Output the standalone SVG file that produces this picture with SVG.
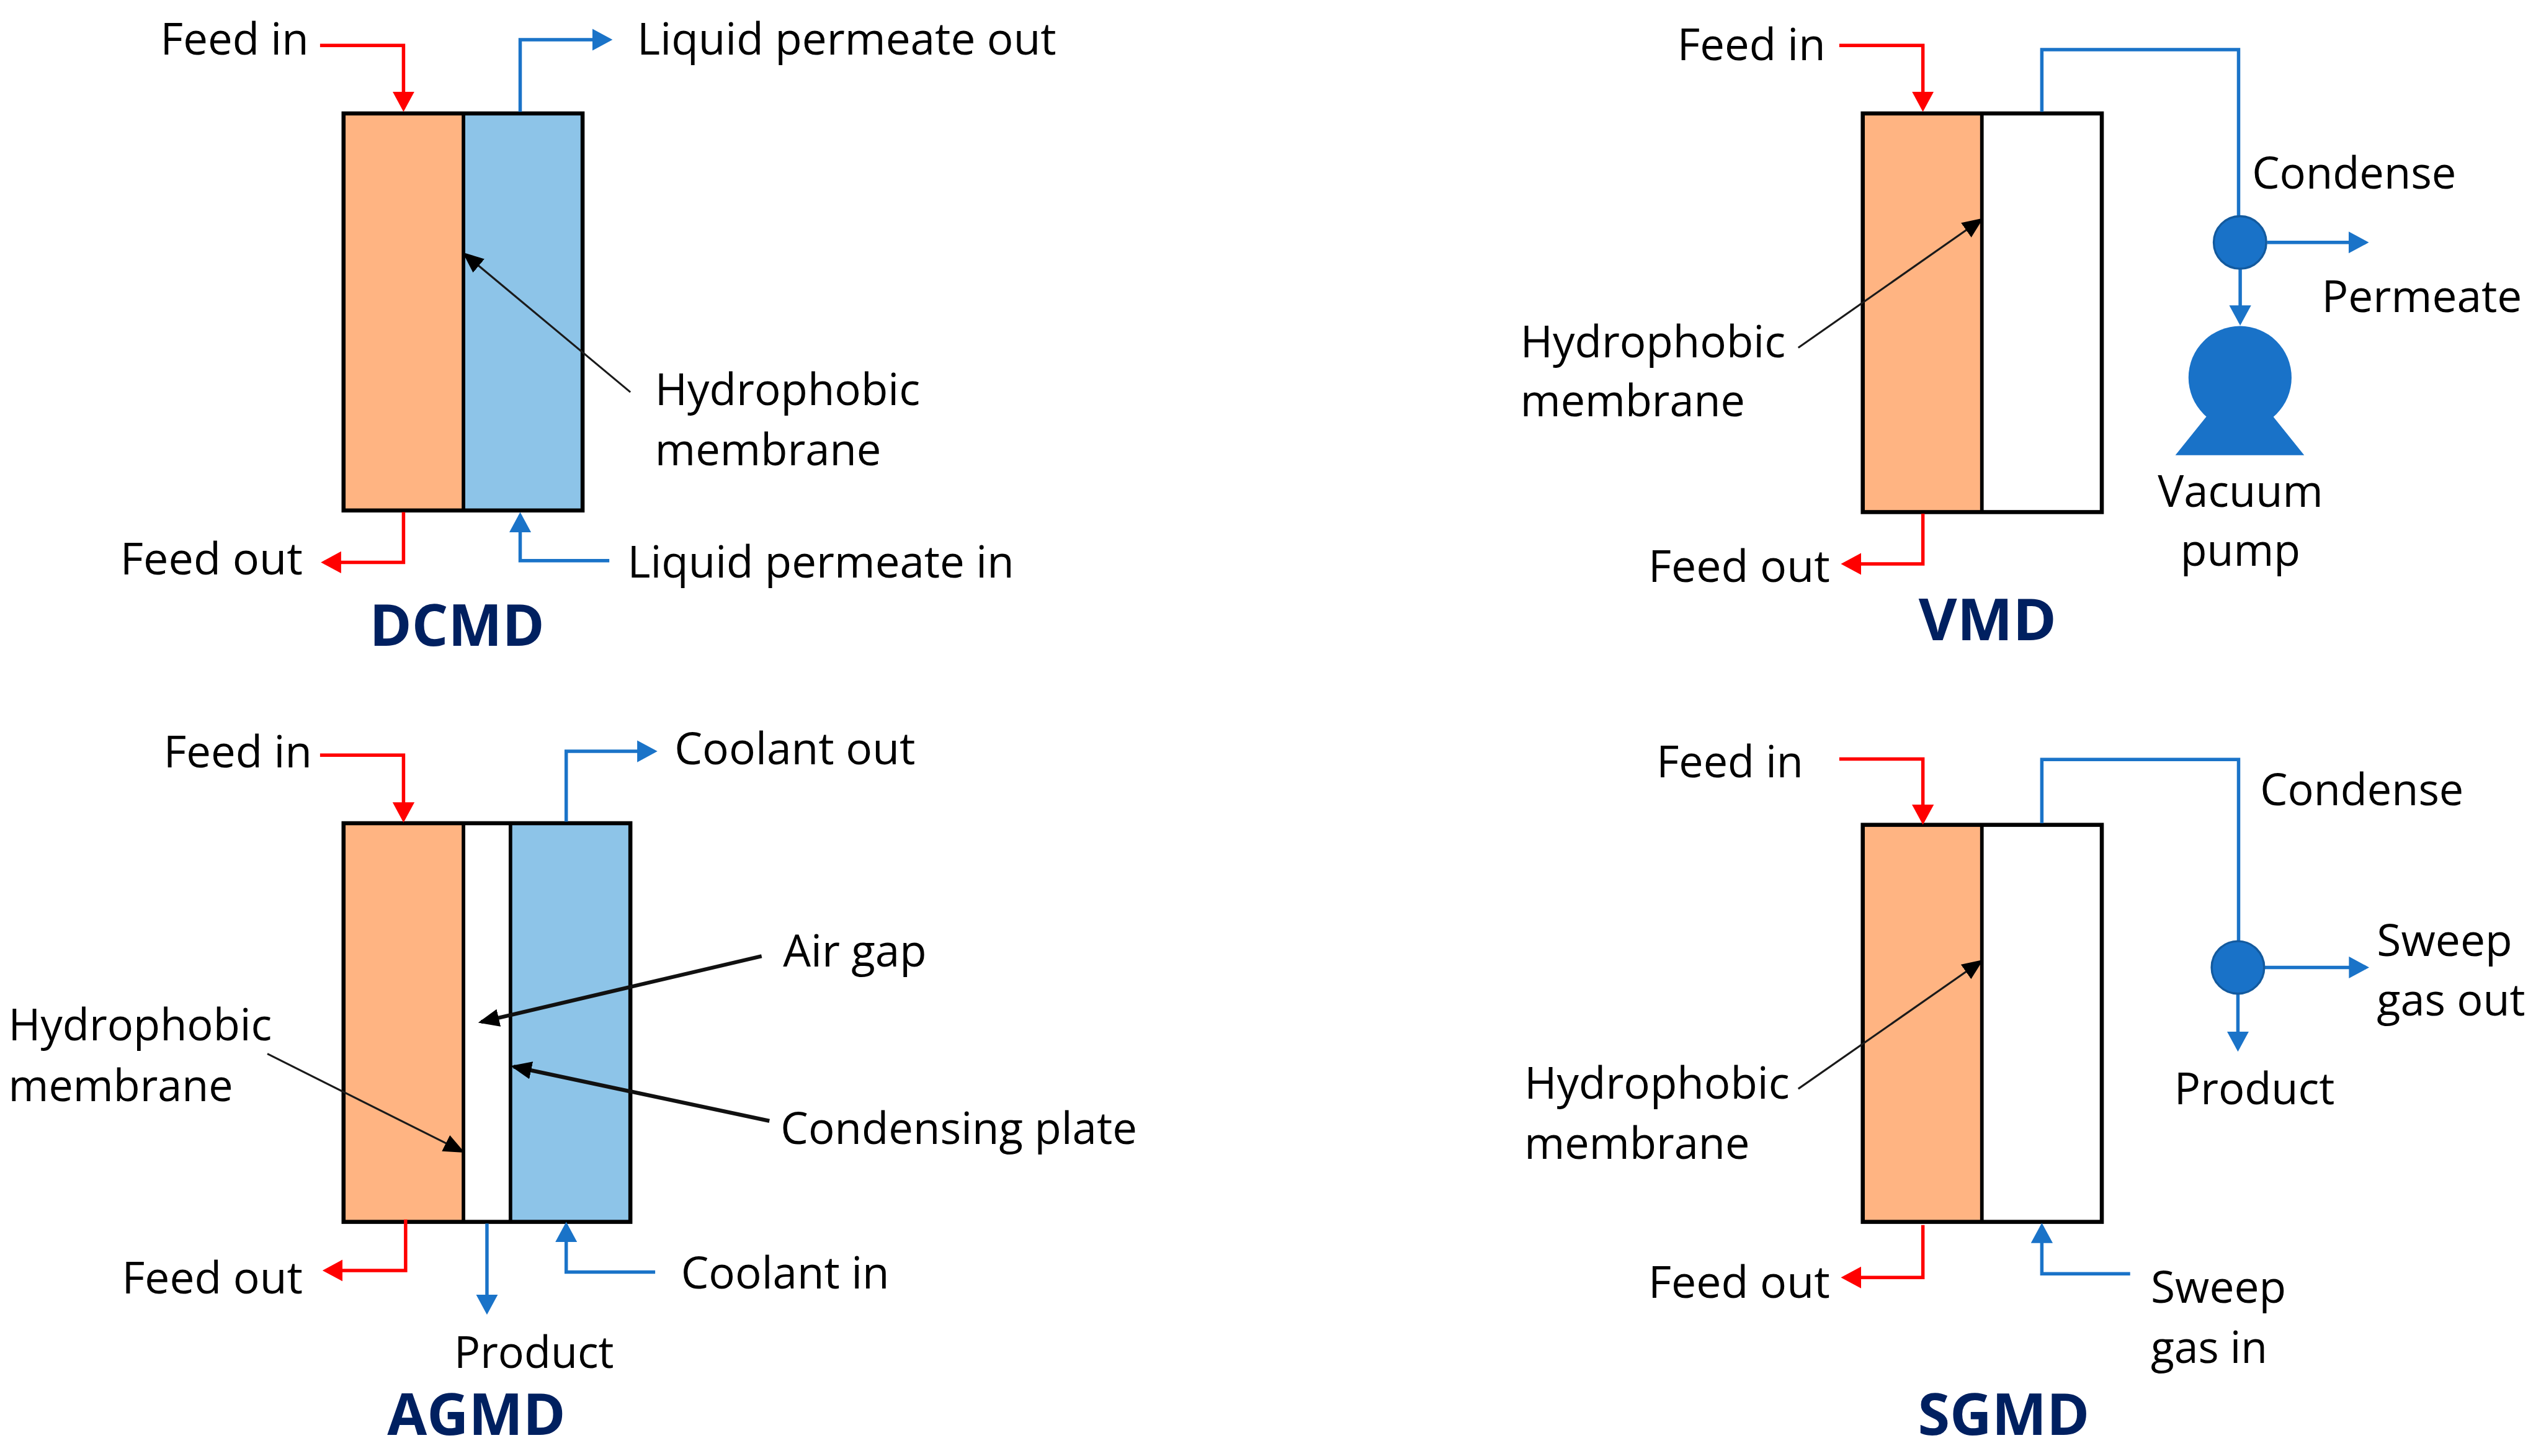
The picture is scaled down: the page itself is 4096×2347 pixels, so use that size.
<svg xmlns="http://www.w3.org/2000/svg" width="4096" height="2347" viewBox="0 0 4096 2347">
<style>
.t{font-family:"Open Sans","Noto Sans",sans-serif;font-size:27px;fill:#000}
.h{font-family:"Open Sans","Noto Sans",sans-serif;font-size:36px;font-weight:700;fill:#002060}
.box{stroke:#000;stroke-width:2.5;fill:none}
.div{stroke:#000;stroke-width:2.2;fill:none}
.o{fill:#FFB482}
.b{fill:#8DC4E8}
.w{fill:#fff}
.r{fill:none;stroke:#FF0000;stroke-width:2.1;marker-end:url(#ra)}
.u{fill:none;stroke:#1A73C8;stroke-width:2.1;marker-end:url(#ba)}
.p{fill:none;stroke:#1A73C8;stroke-width:2.1}
.k{fill:none;stroke:#1a1a1a;stroke-width:1.2;marker-end:url(#ka)}
.K{fill:none;stroke:#111;stroke-width:2.4;marker-end:url(#ka)}
.sep{fill:#1972C8;stroke:#135A9E;stroke-width:1.3}
.pump{fill:#1972C8}
</style>
<defs>
<marker id="ra" markerUnits="userSpaceOnUse" markerWidth="14" markerHeight="14" refX="10.5" refY="6.75" orient="auto"><path d="M0,0L12.5,6.75L0,13.5z" fill="#FF0000"/></marker>
<marker id="ba" markerUnits="userSpaceOnUse" markerWidth="14" markerHeight="14" refX="10.5" refY="6.75" orient="auto"><path d="M0,0L12.5,6.75L0,13.5z" fill="#1A73C8"/></marker>
<marker id="ka" markerUnits="userSpaceOnUse" markerWidth="14" markerHeight="12" refX="11" refY="5.5" orient="auto"><path d="M0,0L13,5.5L0,11z" fill="#000"/></marker>
</defs>
<rect width="4096" height="2347" fill="#fff"/>
<g transform="scale(2.6122)">
<g id="dcmd">
<rect class="o" x="212" y="70" width="74" height="245"/><rect class="b" x="286" y="70" width="73.5" height="245"/>
<rect class="box" x="212" y="70" width="147.5" height="245"/><path class="div" d="M286,70V315"/>
</g>
<g id="vmd">
<rect class="o" x="1149.5" y="70" width="73.5" height="246"/><rect class="w" x="1223" y="70" width="74" height="246"/>
<rect class="box" x="1149.5" y="70" width="147.5" height="246"/><path class="div" d="M1223,70V316"/>
</g>
<g id="agmd">
<rect class="o" x="212" y="508" width="74" height="246"/><rect class="w" x="286" y="508" width="29" height="246"/><rect class="b" x="315" y="508" width="74" height="246"/>
<rect class="box" x="212" y="508" width="177" height="246"/><path class="div" d="M286,508V754M315,508V754"/>
</g>
<g id="sgmd">
<rect class="o" x="1149.5" y="509" width="73.5" height="245"/><rect class="w" x="1223" y="509" width="74" height="245"/>
<rect class="box" x="1149.5" y="509" width="147.5" height="245"/><path class="div" d="M1223,509V754"/>
</g>
<g id="connectors">
<path class="r" d="M197.5,28H249V67"/>
<path class="u" d="M321,69V24.5H376"/>
<path class="r" d="M249,316V347H200"/>
<path class="u" d="M376,346H321V318"/>
<path class="k" d="M389,242L287,157"/>
<path class="r" d="M1135,28H1186.6V67"/>
<path class="p" d="M1260,69V30.6H1381.4V134"/>
<path class="u" d="M1399,149.6H1459.8"/>
<path class="u" d="M1382.4,165V198.9"/>
<path class="r" d="M1186.6,317V348H1138"/>
<path class="k" d="M1109.7,214.6L1222.3,135.7"/>
<path class="r" d="M197.5,466H249V505.6"/>
<path class="u" d="M349.4,507V463.6H403.7"/>
<path class="K" d="M470,590L297,630.6"/>
<path class="K" d="M474.8,691.7L317,658.2"/>
<path class="k" d="M165,650.3L285,710.4"/>
<path class="r" d="M250.3,752.5V784H201"/>
<path class="u" d="M300.5,755V809.3"/>
<path class="u" d="M404.3,785H349.4V756"/>
<path class="r" d="M1135,468.4H1186.6V507"/>
<path class="p" d="M1260,508V468.7H1381.4V581"/>
<path class="u" d="M1397.5,597H1460"/>
<path class="u" d="M1381,613V647"/>
<path class="r" d="M1186.6,756V788.3H1138"/>
<path class="u" d="M1314.5,786H1260V756.6"/>
<path class="k" d="M1109.7,671.9L1222.2,593.4"/>
</g>
<g id="vmd-separator"><circle class="sep" cx="1382.3" cy="149.6" r="16.2"/></g>
<g id="vacuum-pump"><circle class="pump" cx="1382.3" cy="233" r="31.8"/><path class="pump" d="M1361.7,256.9L1342.4,280.9H1421.9L1402.6,256.9z"/></g>
<g id="sgmd-separator"><circle class="sep" cx="1381" cy="597" r="16.2"/></g>
<g id="labels">
<text class="t" x="99" y="33.5" textLength="91.5" lengthAdjust="spacingAndGlyphs">Feed in</text>
<text class="t" x="393.2" y="33.5" textLength="258.6" lengthAdjust="spacingAndGlyphs">Liquid permeate out</text>
<text class="t" x="404.2" y="250" textLength="163.6" lengthAdjust="spacingAndGlyphs">Hydrophobic</text>
<text class="t" x="404.2" y="287" textLength="139.6" lengthAdjust="spacingAndGlyphs">membrane</text>
<text class="t" x="74.2" y="354.5" textLength="112.6" lengthAdjust="spacingAndGlyphs">Feed out</text>
<text class="t" x="387.2" y="356.5" textLength="238.6" lengthAdjust="spacingAndGlyphs">Liquid permeate in</text>
<text class="h" x="228" y="398.5" textLength="108" lengthAdjust="spacingAndGlyphs">DCMD</text>
<text class="t" x="1035" y="37" textLength="91.5" lengthAdjust="spacingAndGlyphs">Feed in</text>
<text class="t" x="1389.7" y="116.4" textLength="126" lengthAdjust="spacingAndGlyphs">Condense</text>
<text class="t" x="1432.7" y="192.5" textLength="123.6" lengthAdjust="spacingAndGlyphs">Permeate</text>
<text class="t" x="1331.5" y="312.7" textLength="102" lengthAdjust="spacingAndGlyphs">Vacuum</text>
<text class="t" x="1345.5" y="349" textLength="74" lengthAdjust="spacingAndGlyphs">pump</text>
<text class="t" x="938.2" y="220.5" textLength="163.6" lengthAdjust="spacingAndGlyphs">Hydrophobic</text>
<text class="t" x="938.2" y="257" textLength="138.6" lengthAdjust="spacingAndGlyphs">membrane</text>
<text class="t" x="1017.2" y="359" textLength="112" lengthAdjust="spacingAndGlyphs">Feed out</text>
<text class="h" x="1184" y="395" textLength="85" lengthAdjust="spacingAndGlyphs">VMD</text>
<text class="t" x="101" y="473.5" textLength="91.5" lengthAdjust="spacingAndGlyphs">Feed in</text>
<text class="t" x="416.2" y="471.5" textLength="148.6" lengthAdjust="spacingAndGlyphs">Coolant out</text>
<text class="t" x="483.2" y="596.5" textLength="88.6" lengthAdjust="spacingAndGlyphs">Air gap</text>
<text class="t" x="481.7" y="706" textLength="220" lengthAdjust="spacingAndGlyphs">Condensing plate</text>
<text class="t" x="5.2" y="642" textLength="162.6" lengthAdjust="spacingAndGlyphs">Hydrophobic</text>
<text class="t" x="5.2" y="679.5" textLength="138.6" lengthAdjust="spacingAndGlyphs">membrane</text>
<text class="t" x="75.2" y="798" textLength="111.6" lengthAdjust="spacingAndGlyphs">Feed out</text>
<text class="t" x="420.2" y="795" textLength="128.6" lengthAdjust="spacingAndGlyphs">Coolant in</text>
<text class="t" x="280.2" y="844" textLength="98.6" lengthAdjust="spacingAndGlyphs">Product</text>
<text class="h" x="239" y="885.5" textLength="110" lengthAdjust="spacingAndGlyphs">AGMD</text>
<text class="t" x="1022.2" y="479.5" textLength="90.6" lengthAdjust="spacingAndGlyphs">Feed in</text>
<text class="t" x="1394.7" y="497" textLength="125.6" lengthAdjust="spacingAndGlyphs">Condense</text>
<text class="t" x="1466.7" y="590" textLength="83.6" lengthAdjust="spacingAndGlyphs">Sweep</text>
<text class="t" x="1466.7" y="626.5" textLength="91.6" lengthAdjust="spacingAndGlyphs">gas out</text>
<text class="t" x="1341.7" y="681.5" textLength="99" lengthAdjust="spacingAndGlyphs">Product</text>
<text class="t" x="940.7" y="678" textLength="163.6" lengthAdjust="spacingAndGlyphs">Hydrophobic</text>
<text class="t" x="940.7" y="715" textLength="139" lengthAdjust="spacingAndGlyphs">membrane</text>
<text class="t" x="1017.2" y="801" textLength="112" lengthAdjust="spacingAndGlyphs">Feed out</text>
<text class="t" x="1327.2" y="804" textLength="83.6" lengthAdjust="spacingAndGlyphs">Sweep</text>
<text class="t" x="1327.2" y="841" textLength="72" lengthAdjust="spacingAndGlyphs">gas in</text>
<text class="h" x="1183.5" y="885.5" textLength="106" lengthAdjust="spacingAndGlyphs">SGMD</text>
</g>
</g>
</svg>
